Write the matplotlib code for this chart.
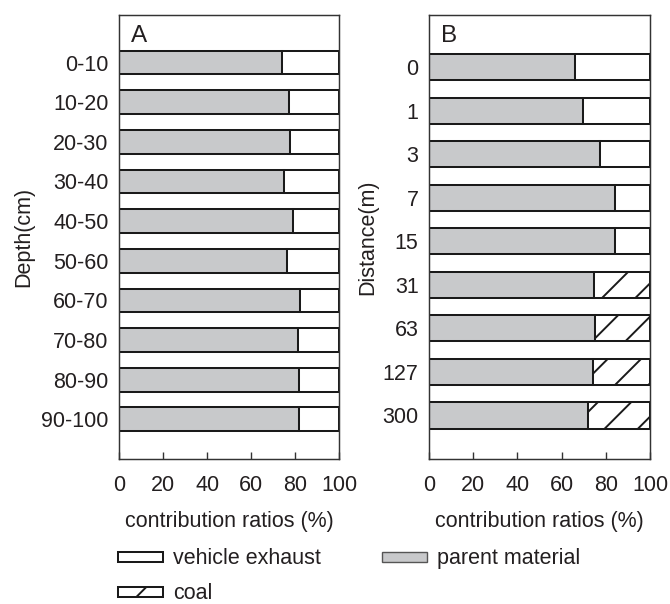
import matplotlib
matplotlib.use("Agg")
import matplotlib.pyplot as plt
from matplotlib.patches import Patch
import numpy as np

# ---- data ----
depth_labels = ["0-10", "10-20", "20-30", "30-40", "40-50", "50-60",
                "60-70", "70-80", "80-90", "90-100"]
depth_parent = [73.8, 77.2, 77.6, 74.7, 78.8, 76.4, 82.2, 81.3, 81.7, 81.7]
depth_vehicle = [26.2, 22.8, 22.4, 25.3, 21.2, 23.6, 17.8, 18.7, 18.3, 18.3]

dist_labels = ["0", "1", "3", "7", "15", "31", "63", "127", "300"]
dist_parent = [65.9, 69.5, 77.4, 84.0, 84.0, 74.8, 75.3, 74.4, 71.8]
dist_vehicle = [34.1, 30.5, 22.6, 16.0, 16.0, 0.0, 0.0, 0.0, 0.0]
dist_coal = [0.0, 0.0, 0.0, 0.0, 0.0, 25.2, 24.7, 25.6, 28.2]

xticks = [0, 20, 40, 60, 80, 100]

# ---- style ----
DPI = 100
plt.rcParams['font.family'] = ['Liberation Sans', 'DejaVu Sans']
plt.rcParams['font.size'] = 15.5
plt.rcParams['hatch.linewidth'] = 1.4
TXT = '#231f20'
GREY = '#c8c9cb'
EDGE = '#1a1a1a'
LW = 1.45

fig = plt.figure(figsize=(670 / DPI, 604 / DPI), dpi=DPI)
axA = fig.add_axes([0.1776, 0.2401, 0.3288, 0.7351])
axB = fig.add_axes([0.6403, 0.2401, 0.3298, 0.7351])

bh = 0.6

def style(ax, labels, nbars, panel, ylabel, ylab_x):
    ax.set_xlim(0, 100)
    ax.set_ylim(nbars, -1.2)
    ax.set_yticks(np.arange(nbars))
    ax.set_yticklabels(labels, color=TXT)
    ax.set_xticks(xticks)
    ax.set_xticklabels([str(t) for t in xticks], color=TXT)
    ax.tick_params(axis='y', length=0, pad=7.5)
    ax.tick_params(axis='x', direction='in', length=5, width=1.0,
                   color='#333333', pad=11.5)
    for s in ax.spines.values():
        s.set_color('#333333')
        s.set_linewidth(1.05)
    ax.set_xlabel("contribution ratios (%)", color=TXT)
    ax.xaxis.set_label_coords(0.5, -0.118)
    ax.set_ylabel(ylabel, color=TXT)
    ax.yaxis.set_label_coords(ylab_x, 0.5)
    ax.text(0.055, 0.953, panel, transform=ax.transAxes, fontsize=17.5,
            color=TXT, ha='left', va='center')

# Panel A
yA = np.arange(len(depth_labels))
axA.barh(yA, depth_parent, height=bh, color=GREY, edgecolor=EDGE, linewidth=LW)
axA.barh(yA, depth_vehicle, left=depth_parent, height=bh, color='white',
         edgecolor=EDGE, linewidth=LW)
style(axA, depth_labels, len(depth_labels), "A", "Depth(cm)", -0.385)

# Panel B
yB = np.arange(len(dist_labels))
axB.barh(yB, dist_parent, height=bh, color=GREY, edgecolor=EDGE, linewidth=LW)
for i in range(len(yB)):
    if dist_vehicle[i] > 0:
        axB.barh(yB[i], dist_vehicle[i], left=dist_parent[i], height=bh,
                 color='white', edgecolor=EDGE, linewidth=LW)
    if dist_coal[i] > 0:
        axB.barh(yB[i], dist_coal[i], left=dist_parent[i], height=bh,
                 color='white', edgecolor=EDGE, linewidth=LW, hatch='/')
style(axB, dist_labels, len(dist_labels), "B", "Distance(m)", -0.23)

handles = [Patch(facecolor='white', edgecolor=EDGE, linewidth=LW),
           Patch(facecolor='white', edgecolor=EDGE, linewidth=LW, hatch='/'),
           Patch(facecolor=GREY, edgecolor='#555555', linewidth=1.0)]
labels = ["vehicle exhaust", "coal", "parent material"]
fig.legend(handles, labels, ncol=2, loc='upper left',
           bbox_to_anchor=(0.176, 0.092), frameon=False, borderpad=0,
           borderaxespad=0,
           handlelength=2.1, handleheight=0.35, handletextpad=0.45,
           columnspacing=2.85, labelspacing=0.65, labelcolor=TXT)

fig.savefig("out.png", dpi=DPI)
